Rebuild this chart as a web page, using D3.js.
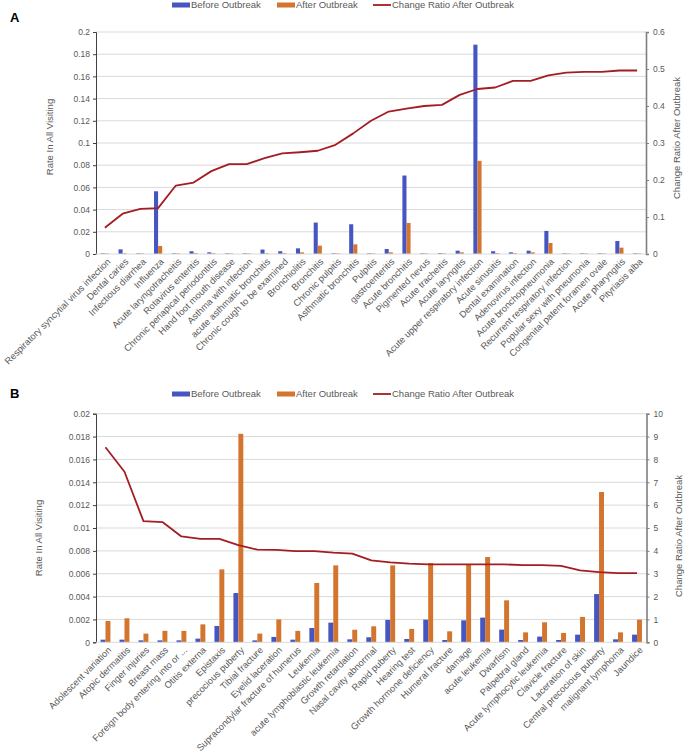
<!DOCTYPE html>
<html>
<head>
<meta charset="utf-8">
<script src="https://cdn.jsdelivr.net/npm/d3@7"></script>
<style>
  body { margin: 0; background: #fff; }
  text { font-family: "Liberation Sans", Arial, sans-serif; }
</style>
</head>
<body>
<div id="chart"></div>
<script>
// ---- panel A data ----
var catsA = ["Respiratory syncytial virus infection", "Dental caries", "Infectious diarrhea", "Influenza",
  "Acute laryngotracheitis", "Rotavirus enteritis", "Chronic periapical periodontitis", "Hand foot mouth disease",
  "Asthma with infection", "acute asthmatic bronchitis", "Chronic cough to be examined", "Bronchiolitis",
  "Bronchitis", "Chronic pulpitis", "Asthmatic bronchitis", "Pulpitis", "gastroenteritis", "Acute bronchitis",
  "Pigmented nevus", "Acute tracheitis", "Acute laryngitis", "Acute upper respiratory infection",
  "Acute sinusitis", "Dental examination", "Adenovirus infection", "Acute bronchopneumonia",
  "Recurrent respiratory infection", "Popular sexy with pneumonia", "Congenital patent foramen ovale",
  "Acute pharyngitis", "Pityriasis alba"]
var beforeA = [0.0006, 0.0042, 0.0006, 0.0565, 0.0006, 0.0025, 0.0015, 0.0006, 0.0006, 0.004, 0.0025, 0.0051,
  0.0283, 0.0006, 0.0268, 0.0006, 0.0045, 0.0707, 0.0006, 0.0008, 0.003, 0.1886, 0.0025, 0.0015, 0.003,
  0.0208, 0.0006, 0.0006, 0.0006, 0.0117, 0.0006]
var afterA = [0.0005, 0.0006, 0.0005, 0.0072, 0.0005, 0.0008, 0.0007, 0.0005, 0.0005, 0.0006, 0.0007, 0.0015,
  0.0075, 0.0005, 0.0087, 0.0005, 0.0015, 0.028, 0.0005, 0.0005, 0.0015, 0.0839, 0.0008, 0.0007, 0.0015,
  0.0099, 0.0005, 0.0005, 0.0005, 0.0057, 0.0005]
var ratioA = [0.071, 0.109, 0.122, 0.124, 0.185, 0.193, 0.224, 0.243, 0.243, 0.259, 0.272, 0.275, 0.279,
  0.295, 0.326, 0.36, 0.385, 0.393, 0.4, 0.403, 0.43, 0.446, 0.45, 0.468, 0.468, 0.483, 0.49, 0.492,
  0.492, 0.496, 0.496]
var leftTicksA = [0, 0.02, 0.04, 0.06, 0.08, 0.1, 0.12, 0.14, 0.16, 0.18, 0.2]
var rightTicksA = [0, 0.1, 0.2, 0.3, 0.4, 0.5, 0.6]

// ---- panel B data ----
var catsB = ["Adolescent variation", "Atopic dermatitis", "Finger injuries", "Breast mass",
  "Foreign body entering into or ...", "Otitis externa", "Epistaxis", "precocious puberty", "Tibial fracture",
  "Eyelid laceration", "Supracondylar fracture of humerus", "Leukemia", "acute lymphoblastic leukemia",
  "Growth retardation", "Nasal cavity abnormal", "Rapid puberty", "Hearing test", "Growth hormone deficiency",
  "Humeral fracture", "damage", "acute leukemia", "Dwarfism", "Palpebral gland", "Acute lymphocytic leukemia",
  "Clavicle fracture", "Laceration of skin", "Central precocious puberty", "malignant lymphoma", "Jaundice"]
var beforeB = [0.00023, 0.00023, 0.00017, 0.00017, 0.00017, 0.00032, 0.00143, 0.00431, 0.00017, 0.00047,
  0.00023, 0.00125, 0.00172, 0.00026, 0.00044, 0.00196, 0.00029, 0.00198, 0.0002, 0.00192, 0.00216,
  0.00111, 0.0002, 0.0005, 0.0002, 0.00067, 0.00422, 0.00026, 0.00067]
var afterB = [0.00187, 0.0021, 0.00076, 0.001, 0.001, 0.00157, 0.00638, 0.01824, 0.00076, 0.002, 0.001,
  0.00519, 0.00673, 0.0011, 0.0014, 0.00673, 0.00117, 0.00693, 0.00096, 0.00682, 0.00746, 0.00367,
  0.00087, 0.00175, 0.00082, 0.00222, 0.01315, 0.00087, 0.00198]
var ratioB = [8.53, 7.46, 5.3, 5.26, 4.63, 4.52, 4.52, 4.25, 4.05, 4.04, 3.99, 3.99, 3.92, 3.88, 3.58,
  3.5, 3.44, 3.41, 3.41, 3.41, 3.41, 3.41, 3.38, 3.38, 3.34, 3.15, 3.07, 3.03, 3.03]
var leftTicksB = [0, 0.002, 0.004, 0.006, 0.008, 0.01, 0.012, 0.014, 0.016, 0.018, 0.02]
var rightTicksB = [0, 1, 2, 3, 4, 5, 6, 7, 8, 9, 10]

var legendNames = ["Before Outbreak", "After Outbreak", "Change Ratio After Outbreak"]

var blue = "#4556c2", orange = "#d3742f", red = "#a31d22", txt = "#595959"

var svg = d3.select("#chart").append("svg")
  .attr("width", 685)
  .attr("height", 755)

function drawPanel(p) {
  var g = svg.append("g")

  var x = d3.scaleBand().domain(p.cats).range([p.left, p.right])
  var y = d3.scaleLinear().domain([0, d3.max(p.leftTicks)]).range([p.bottom, p.top])
  var y2 = d3.scaleLinear().domain([0, d3.max(p.rightTicks)]).range([p.bottom, p.top])
  var bw = x.bandwidth() * p.barFrac

  // gridlines
  g.append("g").selectAll("line").data(p.leftTicks.slice(1)).enter().append("line")
    .attr("x1", p.left).attr("x2", p.right)
    .attr("y1", d => y(d)).attr("y2", d => y(d))
    .attr("stroke", "#d9d9d9").attr("stroke-width", 1)

  // bars
  g.append("g").selectAll("rect").data(p.before).enter().append("rect")
    .attr("x", (d, i) => x(p.cats[i]) + x.bandwidth() / 2 - bw)
    .attr("y", d => y(d))
    .attr("width", bw)
    .attr("height", d => p.bottom - y(d))
    .attr("fill", blue)
  g.append("g").selectAll("rect").data(p.after).enter().append("rect")
    .attr("x", (d, i) => x(p.cats[i]) + x.bandwidth() / 2)
    .attr("y", d => y(d))
    .attr("width", bw)
    .attr("height", d => p.bottom - y(d))
    .attr("fill", orange)

  // ratio line
  var line = d3.line()
    .x((d, i) => x(p.cats[i]) + x.bandwidth() / 2)
    .y(d => y2(d))
  g.append("path").datum(p.ratio)
    .attr("d", line)
    .attr("fill", "none")
    .attr("stroke", red)
    .attr("stroke-width", 1.8)
    .attr("stroke-linejoin", "round")

  // left axis
  var la = g.append("g")
    .attr("transform", "translate(" + p.left + ",0)")
    .call(d3.axisLeft(y).tickValues(p.leftTicks).tickSize(3).tickPadding(3)
      .tickFormat(d => String(+d.toFixed(4))))
  la.select(".domain").attr("stroke", "#404040")
  la.selectAll(".tick line").attr("stroke", "#404040")
  la.selectAll("text").attr("fill", txt).style("font-size", "8.5px")

  // right axis
  var ra = g.append("g")
    .attr("transform", "translate(" + p.right + ",0)")
    .call(d3.axisRight(y2).tickValues(p.rightTicks).tickSize(3).tickPadding(4)
      .tickFormat(d => String(+d.toFixed(2))))
  ra.select(".domain").attr("stroke", "#7f7f7f").attr("stroke-width", 1.6)
  ra.selectAll(".tick line").attr("stroke", "#7f7f7f")
  ra.selectAll("text").attr("fill", txt).style("font-size", "8.5px")

  // bottom axis line + rotated labels
  g.append("line")
    .attr("x1", p.left).attr("x2", p.right)
    .attr("y1", p.bottom).attr("y2", p.bottom)
    .attr("stroke", "#d9d9d9")
  g.append("g").selectAll("text").data(p.cats).enter().append("text")
    .attr("transform", d => "translate(" + (x(d) + x.bandwidth() / 2 + 4) + "," + (p.bottom + 6) + ") rotate(-45)")
    .attr("text-anchor", "end")
    .attr("dy", "0.35em")
    .attr("fill", txt)
    .style("font-size", p.labelSize)
    .text(d => d)

  // axis titles
  g.append("text")
    .attr("transform", "translate(" + p.ltx + "," + p.lty + ") rotate(-90)")
    .attr("text-anchor", "middle")
    .attr("dy", "0.35em")
    .attr("fill", txt)
    .style("font-size", "9.5px")
    .text("Rate In All Visiting")
  g.append("text")
    .attr("transform", "translate(" + p.rtx + "," + p.rty + ") rotate(-90)")
    .attr("text-anchor", "middle")
    .attr("dy", "0.35em")
    .attr("fill", txt)
    .style("font-size", "9.5px")
    .text("Change Ratio After Outbreak")

  // panel letter
  g.append("text")
    .attr("x", 10).attr("y", p.letterY)
    .attr("fill", "#000")
    .style("font-size", "13px")
    .style("font-weight", "bold")
    .text(p.letter)

  // legend
  var lg = g.append("g").attr("transform", "translate(0," + p.legendY + ")")
  var lx = [172, 277, 373]
  lg.append("rect").attr("x", lx[0]).attr("y", -2.5).attr("width", 18).attr("height", 5).attr("fill", blue)
  lg.append("rect").attr("x", lx[1]).attr("y", -2.5).attr("width", 18).attr("height", 5).attr("fill", orange)
  lg.append("line").attr("x1", lx[2]).attr("x2", lx[2] + 18).attr("y1", 0).attr("y2", 0)
    .attr("stroke", red).attr("stroke-width", 1.8)
  lg.selectAll("text").data(legendNames).enter().append("text")
    .attr("x", (d, i) => lx[i] + 19)
    .attr("y", 0)
    .attr("dy", "0.35em")
    .attr("fill", txt)
    .style("font-size", "9.5px")
    .text(d => d)
}

drawPanel({
  letter: "A", letterY: 22, legendY: 5,
  cats: catsA, before: beforeA, after: afterA, ratio: ratioA,
  leftTicks: leftTicksA, rightTicks: rightTicksA,
  left: 96, right: 646, top: 32, bottom: 254, barFrac: 0.23, labelSize: "9.3px",
  ltx: 49.5, lty: 137, rtx: 677, rty: 138
})

drawPanel({
  letter: "B", letterY: 398, legendY: 394,
  cats: catsB, before: beforeB, after: afterB, ratio: ratioB,
  leftTicks: leftTicksB, rightTicks: rightTicksB,
  left: 96, right: 646.5, top: 413.7, bottom: 642.3, barFrac: 0.26, labelSize: "9.3px",
  ltx: 38.5, lty: 538, rtx: 679, rty: 536
})
</script>
</body>
</html>
